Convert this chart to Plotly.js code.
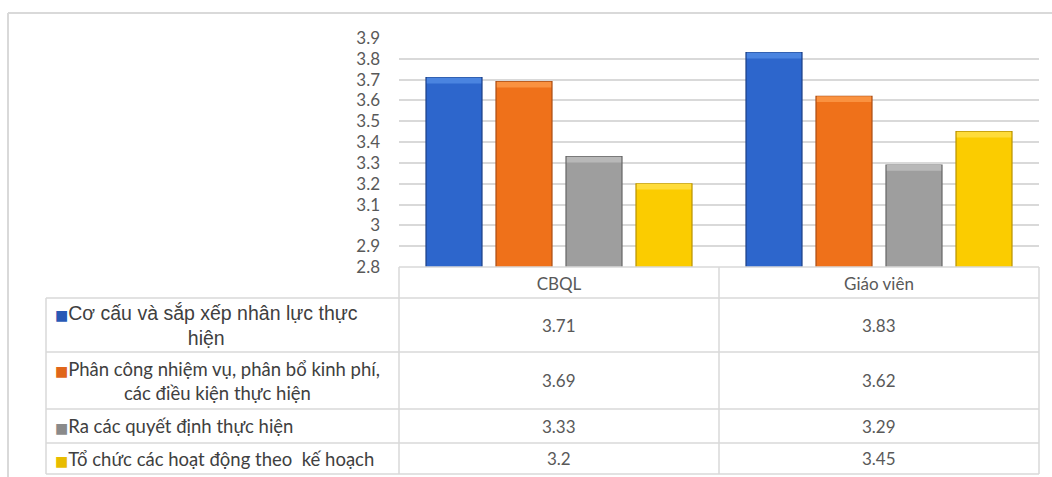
<!DOCTYPE html>
<html>
<head>
<meta charset="utf-8">
<script src="https://cdn.plot.ly/plotly-3.0.1.min.js"></script>
<style>
  html, body { margin: 0; padding: 0; background: #ffffff; }
  #chart { width: 1052px; height: 477px; }
</style>
</head>
<body>
<div id="chart"></div>
<script>
// Groups on the x axis
const groups = ['CBQL', 'Giáo viên'];

// Criteria (series) and their display labels in the data table
const seriesNames = [
  'Cơ cấu và sắp xếp nhân lực thực hiện',
  'Phân công nhiệm vụ, phân bổ kinh phí, các điều kiện thực hiện',
  'Ra các quyết định thực hiện',
  'Tổ chức các hoạt động theo  kế hoạch'
];
const tableLabels = [
  'Cơ cấu và sắp xếp nhân lực thực<br>hiện',
  'Phân công nhiệm vụ, phân bổ kinh phí,<br>các điều kiện thực hiện',
  'Ra các quyết định thực hiện',
  'Tổ chức các hoạt động theo  kế hoạch'
];

// Mean scores per criterion: [CBQL, Giáo viên]
const coCau       = [3.71, 3.83];
const phanCong    = [3.69, 3.62];
const raQuyetDinh = [3.33, 3.29];
const toChuc      = [3.2, 3.45];
const seriesValues = [coCau, phanCong, raQuyetDinh, toChuc];

// Y axis ticks
const yTicks = [2.8, 2.9, 3.0, 3.1, 3.2, 3.3, 3.4, 3.5, 3.6, 3.7, 3.8, 3.9];
const yTickText = ['2.8', '2.9', '3', '3.1', '3.2', '3.3', '3.4', '3.5', '3.6', '3.7', '3.8', '3.9'];

// Styling
const fills      = ['#2D66CC', '#EF711A', '#9E9E9E', '#FBCC00'];
const highlights = ['#4A84E0', '#FA9240', '#B8B8B8', '#FFDC3A'];
const edges      = ['#1B3F85', '#A94D14', '#666666', '#B89200'];
const keyColors  = ['#2859B5', '#E0661A', '#8A8A8A', '#E8BC00'];
const labelFonts = ['"Liberation Sans", Arial, sans-serif', 'Lato, sans-serif',
                    'Lato, sans-serif', 'Lato, sans-serif'];
const labelSizes = [19.5, 18.5, 18.5, 18.5];
const gridColor = '#D9D9D9';
const textGray = '#595959';
const capDepth = 0.028;  // thickness of the bevel highlight on bar tops (axis units)

// Page geometry (pixels)
const W = 1052, H = 477;
const plotL = 399, plotR = 1039, plotT = 38, plotB = 267;
const px = v => (v - plotL) / (plotR - plotL);
const py = v => (plotB - v) / (plotB - plotT);

// Data table rows (pixel edges)
const tableLeft = 46, tableRight = 1039, colSplit = 719;
const rowEdges = [298, 352, 409, 443, 474];

const traces = [];
seriesNames.forEach((name, i) => {
  traces.push({
    type: 'bar',
    name: name,
    x: groups,
    y: seriesValues[i],
    offsetgroup: 's' + i,
    marker: { color: fills[i], line: { color: edges[i], width: 1.2 } },
    hovertemplate: '%{x}: %{y}<extra>' + name + '</extra>'
  });
});
// lighter bevel band along each bar's top edge
seriesNames.forEach((name, i) => {
  traces.push({
    type: 'bar',
    name: name + ' (bevel)',
    x: groups,
    y: seriesValues[i].map(() => capDepth),
    base: seriesValues[i].map(v => v - capDepth),
    offsetgroup: 's' + i,
    width: 0.17,
    marker: { color: highlights[i], line: { width: 0 } },
    hoverinfo: 'skip',
    showlegend: false
  });
});

const line = (x0, y0, x1, y1, w) => ({
  type: 'line', xref: 'paper', yref: 'paper',
  x0: px(x0), y0: py(y0), x1: px(x1), y1: py(y1),
  line: { color: gridColor, width: w || 1.5 }, layer: 'above'
});

const shapes = [
  // outer chart frame
  line(8, 13, W + 5, 13, 2),
  line(8, 13, 8, H + 5, 2),
  // header row
  line(plotL, plotB, tableRight, plotB),
  // table horizontal rules
  ...rowEdges.map(y => line(tableLeft, y, tableRight, y)),
  // table vertical rules
  line(tableLeft, rowEdges[0], tableLeft, rowEdges[rowEdges.length - 1]),
  line(plotL, plotB, plotL, rowEdges[rowEdges.length - 1]),
  line(colSplit, plotB, colSplit, rowEdges[rowEdges.length - 1]),
  line(tableRight, plotB, tableRight, rowEdges[rowEdges.length - 1])
];

const annotations = [];
seriesNames.forEach((name, i) => {
  const yc = py((rowEdges[i] + rowEdges[i + 1]) / 2);
  // legend key + label
  annotations.push({
    xref: 'paper', yref: 'paper', x: px(53), y: yc,
    xanchor: 'left', yanchor: 'middle', align: 'center', showarrow: false,
    text: '<span style="color:' + keyColors[i] + ';font-size:14px;font-family:DejaVu Sans">■</span>' + tableLabels[i],
    font: { family: labelFonts[i], size: labelSizes[i], color: '#404040' }
  });
  // values per group
  groups.forEach((g, j) => {
    annotations.push({
      xref: 'x', yref: 'paper', x: g, y: yc,
      xanchor: 'center', yanchor: 'middle', showarrow: false,
      text: String(seriesValues[i][j]),
      font: { family: 'Lato, sans-serif', size: 17, color: textGray }
    });
  });
});

const layout = {
  width: W, height: H,
  margin: { l: plotL, r: W - plotR, t: plotT, b: H - plotB, pad: 0 },
  paper_bgcolor: '#ffffff',
  plot_bgcolor: '#ffffff',
  showlegend: false,
  barmode: 'group',
  bargap: 0.125,
  bargroupgap: 0.2,
  font: { family: 'Lato, sans-serif', color: textGray },
  xaxis: {
    type: 'category',
    showgrid: false, showline: false, zeroline: false, ticks: '',
    ticklabelstandoff: 5,
    tickfont: { family: 'Lato, sans-serif', size: 17, color: textGray }
  },
  yaxis: {
    range: [2.8, 3.9],
    tickvals: yTicks, ticktext: yTickText,
    showgrid: true, gridcolor: gridColor, gridwidth: 1.5,
    zeroline: false, showline: false, ticks: '',
    ticklabelstandoff: 18,
    tickfont: { family: 'Lato, sans-serif', size: 17, color: textGray }
  },
  shapes: shapes,
  annotations: annotations
};

Plotly.newPlot('chart', traces, layout, { displayModeBar: false, responsive: false });
</script>
</body>
</html>
